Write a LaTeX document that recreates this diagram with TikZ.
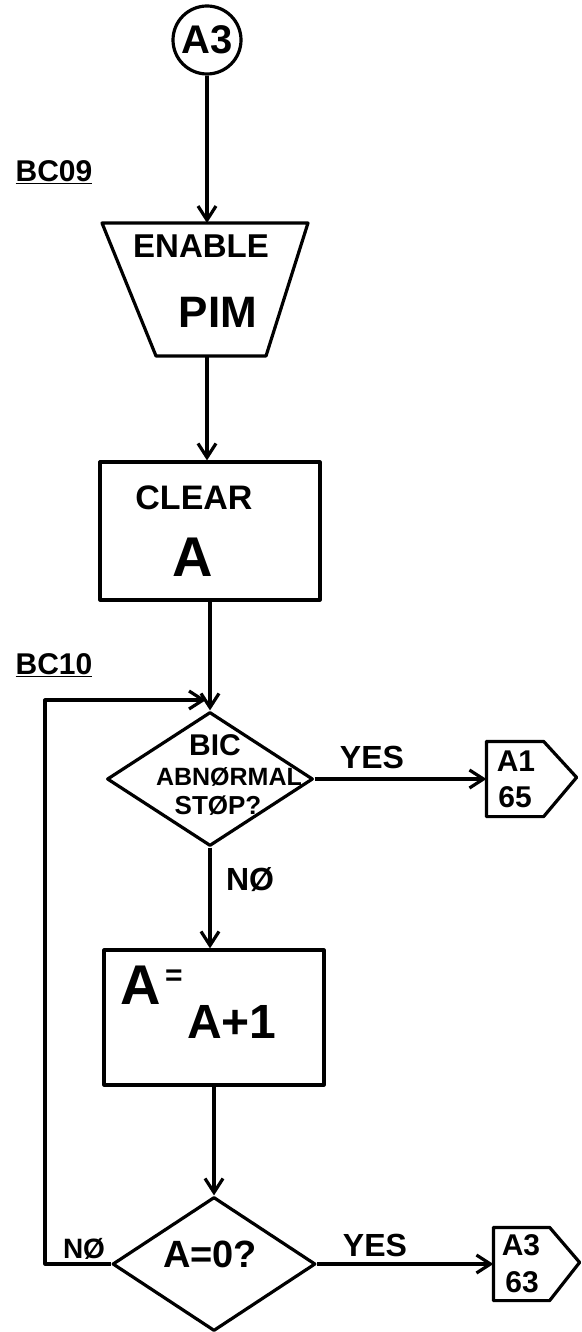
\documentclass[tikz,border=0pt]{standalone}
\usepackage{fontspec}
\setmainfont{Liberation Sans}
\usetikzlibrary{arrows.meta,shapes.geometric}
\begin{document}
\begin{tikzpicture}[x=1pt,y=-1pt,line width=3.2pt,line join=round,
  arr/.style={-{Straight Barb[length=14pt,width=18pt,line width=3.2pt]}},
  lbl/.style={font=\bfseries\fontsize{#1}{#1}\selectfont,inner sep=0pt},
  box/.style={draw,rectangle,inner sep=0pt},
  dec/.style={draw,diamond,inner sep=0pt},
  hold/.style={inner sep=0pt}]
\useasboundingbox (0,0) rectangle (581,1332);

% start connector
\node[draw,circle,minimum size=68pt,inner sep=0pt] (start) at (207,40) {};
\node[lbl=40] (startt) at (start) {A3};

% label BC09
\node[lbl=30] (bc09) at (54,172) {\underline{BC09}};

% trapezoid
\coordinate (tl) at (102,223);
\coordinate (tr) at (308,223);
\coordinate (br) at (266,356);
\coordinate (bl) at (156,356);
\coordinate (ttop) at (207,223);
\coordinate (tbot) at (207,356);
\draw (tl) -- (tr) -- (br) -- (bl) -- cycle;
\node[lbl=33] (enable) at (201,246) {ENABLE};
\node[lbl=44] (pim) at (218,312) {PIM};

% clear A
\node[box,minimum width=220pt,minimum height=138pt] (clear) at (210,531) {};
\node[lbl=34] (cleart) at (194,498) {CLEAR};
\node[lbl=56] (cleara) at (193,557) {A};

% BC10 label
\node[lbl=30] (bc10) at (54,665) {\underline{BC10}};

% decision 1
\node[dec,minimum width=206pt,minimum height=134pt] (d1) at (210,779) {};
\node[lbl=30] (bic) at (215,745) {BIC};
\node[lbl=25] (abn) at (229,777) {ABNØRMAL};
\node[lbl=26] (stop) at (218,806) {STØP?};
\node[lbl=32] (yes1) at (372,757) {YES};
\node[lbl=32] (no1) at (250,880) {NØ};

% off page A1 65
\node[hold,minimum width=54pt,minimum height=72pt] (c1) at (515,779) {};
\draw (c1.south east) -- (c1.south west) -- (c1.north west) -- (c1.north east) -- ++(33,36) -- cycle;
\node[lbl=30] (c1a) at (516,761) {A1};
\node[lbl=30] (c1b) at (515,797) {65};

% A = A+1
\node[box,minimum width=220pt,minimum height=135pt] (inc) at (214,1017.5) {};
\node[lbl=56] (inca) at (141,985) {A};
\node[lbl=30] (inceq) at (174,978) {=};
\node[lbl=48] (incb) at (232,1022) {A+1};

% decision 2
\node[dec,minimum width=203pt,minimum height=134pt] (d2) at (214,1264) {};
\node[lbl=38] (d2t) at (210,1254) {A=0?};
\node[lbl=28] (no2) at (84,1249) {NØ};
\node[lbl=32] (yes2) at (375,1245) {YES};

% off page A3 63
\node[hold,minimum width=53pt,minimum height=70pt] (c2) at (521.5,1264) {};
\draw (c2.south east) -- (c2.south west) -- (c2.north west) -- (c2.north east) -- ++(30,35) -- cycle;
\node[lbl=30] (c2a) at (521,1245) {A3};
\node[lbl=30] (c2b) at (522,1282) {63};

% connectors
\coordinate (lc) at (45,700);
\coordinate (le) at (206,700);
\draw[arr] (start.south) -- (ttop);
\draw[arr] (tbot) -- (clear.north -| tbot);
\draw[arr] (clear.south) -- (d1.north);
\draw[arr] (d2.west) -| (lc) -- (le);
\draw[arr] (d1.east) -- (c1.west);
\draw[arr] (d1.south) -- (d1.south |- inc.north);
\draw[arr] (inc.south) -- (d2.north);
\draw[arr] (d2.east) -- (c2.west);
\end{tikzpicture}
\end{document}
